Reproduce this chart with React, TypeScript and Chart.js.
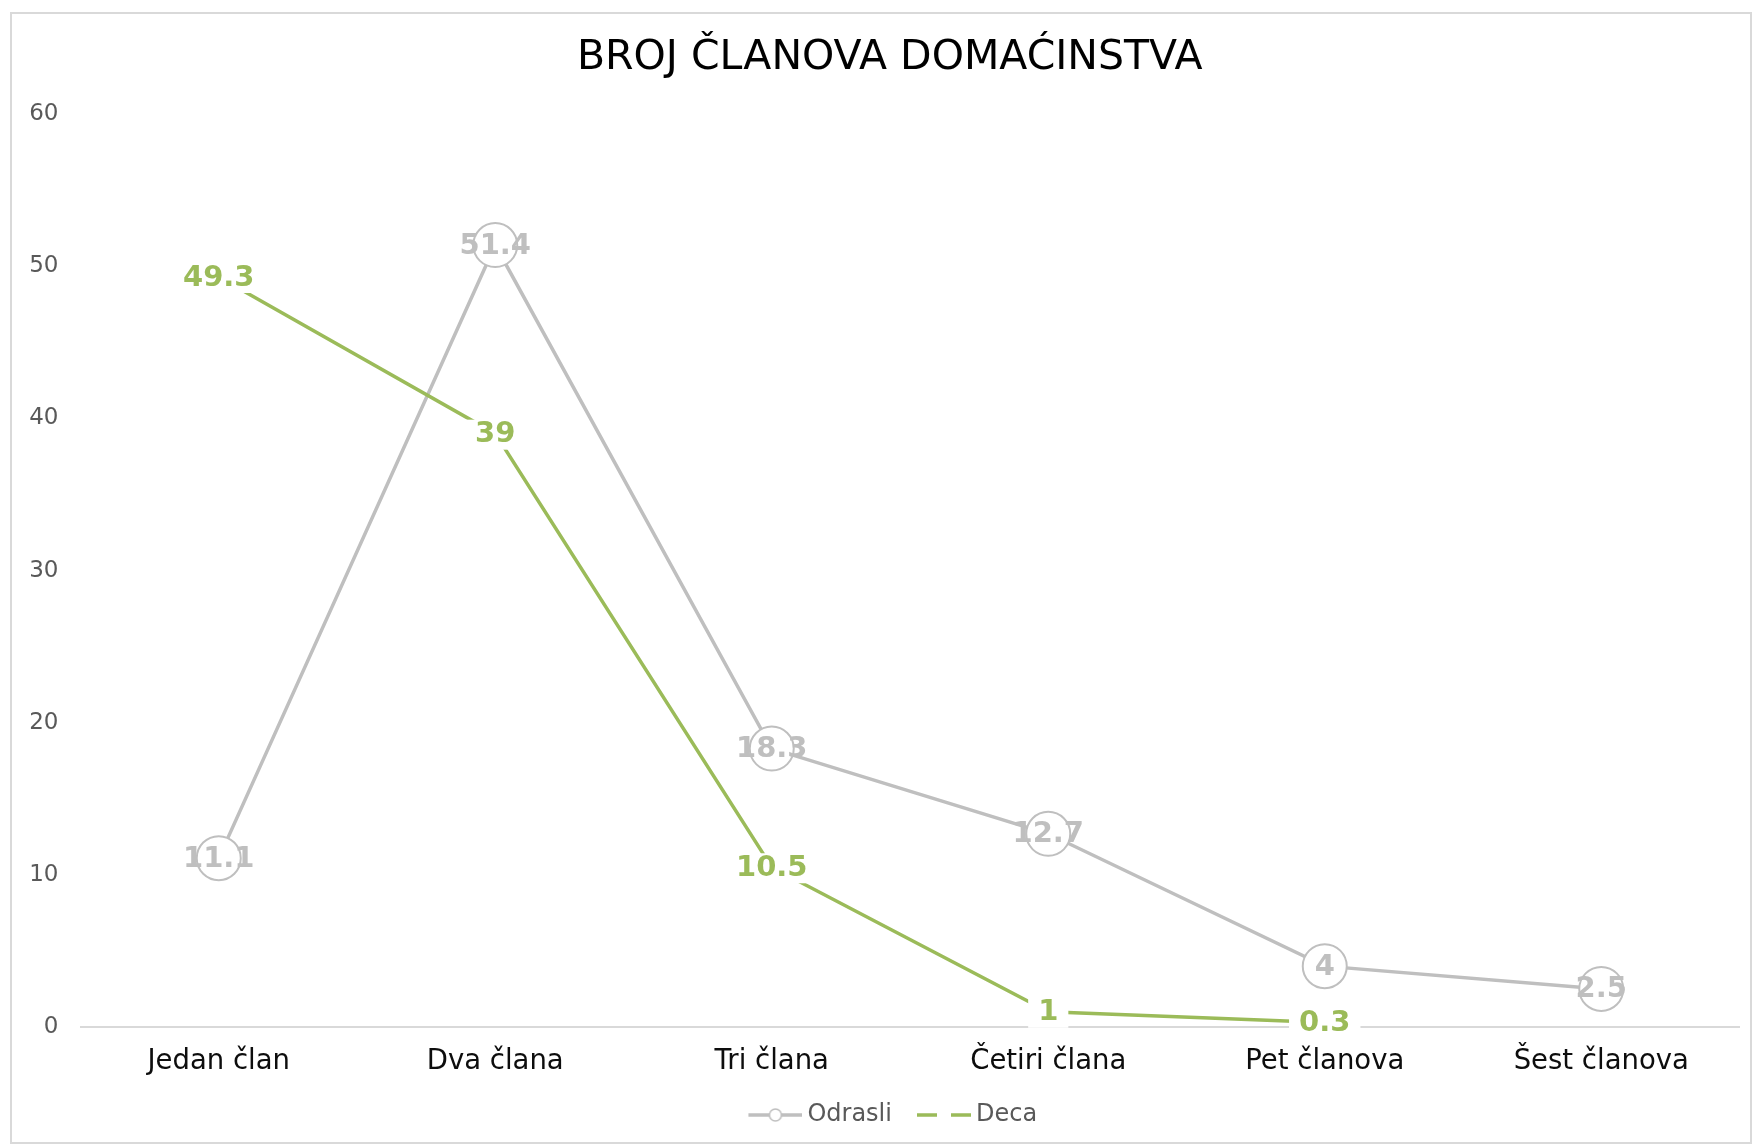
import { useEffect, useRef } from "react";
import { Chart, registerables } from "chart.js";

Chart.register(...registerables);

const categories = ["Jedan član", "Dva člana", "Tri člana", "Četiri člana", "Pet članova", "Šest članova"];
const odrasliValues = [11.1, 51.4, 18.3, 12.7, 4, 2.5];
const decaValues: (number | null)[] = [49.3, 39, 10.5, 1, 0.3, null];
const seriesNames = ["Odrasli", "Deca"];
const chartTitle = "BROJ ČLANOVA DOMAĆINSTVA";
const yMin = 0;
const yMax = 60;
const yStep = 10;

const FONT = "'DejaVu Sans', sans-serif";
const GRAY = "#bfbfbf";
const GREEN = "#9bbb59";

function makeLegendImage(kind: "marker" | "dash"): HTMLCanvasElement {
  const c = document.createElement("canvas");
  c.width = 76;
  c.height = 20;
  const ctx = c.getContext("2d")!;
  const x0 = 22;
  const x1 = 76;
  const cy = 10;
  ctx.lineWidth = 3.5;
  if (kind === "marker") {
    ctx.strokeStyle = GRAY;
    ctx.beginPath();
    ctx.moveTo(x0, cy);
    ctx.lineTo(x1, cy);
    ctx.stroke();
    ctx.beginPath();
    ctx.arc((x0 + x1) / 2, cy, 6, 0, Math.PI * 2);
    ctx.fillStyle = "#fff";
    ctx.fill();
    ctx.lineWidth = 1.5;
    ctx.stroke();
  } else {
    ctx.strokeStyle = GREEN;
    ctx.beginPath();
    ctx.moveTo(x0, cy);
    ctx.lineTo(x0 + 20, cy);
    ctx.moveTo(x0 + 34, cy);
    ctx.lineTo(x1, cy);
    ctx.stroke();
  }
  return c;
}

const framePlugin = {
  id: "frame",
  beforeDraw(chart: any) {
    const ctx = chart.ctx;
    ctx.save();
    ctx.fillStyle = "#fff";
    ctx.fillRect(0, 0, chart.width, chart.height);
    ctx.strokeStyle = "#d9d9d9";
    ctx.lineWidth = 2;
    ctx.strokeRect(11, 13, 1740, 1130);
    ctx.restore();
  },
};

// Title and legend are centred a little right of the canvas centre in the reference.
const shiftBlocksPlugin = {
  id: "shiftBlocks",
  afterLayout(chart: any) {
    const tb = chart.titleBlock;
    if (tb) {
      tb.left += 20;
      tb.right += 20;
    }
    const lg = chart.legend;
    if (lg) {
      lg.left += 15.5;
      lg.right += 15.5;
    }
  },
};

const valueLabelPlugin = {
  id: "valueLabels",
  afterDatasetsDraw(chart: any) {
    const ctx = chart.ctx;
    chart.data.datasets.forEach((ds: any, di: number) => {
      const meta = chart.getDatasetMeta(di);
      meta.data.forEach((el: any, i: number) => {
        const v = ds.data[i];
        if (v === null || v === undefined) return;
        const text = String(v);
        const { x, y } = el.getProps(["x", "y"], true);
        ctx.save();
        ctx.font = `bold 29px ${FONT}`;
        ctx.textAlign = "center";
        ctx.textBaseline = "middle";
        if (ds.label === "Deca") {
          const w = ctx.measureText(text).width;
          ctx.fillStyle = "#fff";
          ctx.fillRect(x - w / 2 - 10, y - 14, w + 20, 30);
          ctx.fillStyle = GREEN;
        } else {
          ctx.fillStyle = GRAY;
        }
        ctx.fillText(text, x, y + 1);
        ctx.restore();
      });
    });
  },
};

export default function App() {
  const ref = useRef<HTMLCanvasElement | null>(null);

  useEffect(() => {
    document.body.style.margin = "0";
    const canvas = ref.current;
    if (!canvas) return;
    const imgO = makeLegendImage("marker");
    const imgD = makeLegendImage("dash");

    const chart = new Chart(canvas, {
      type: "line",
      data: {
        labels: categories,
        datasets: [
          {
            label: seriesNames[0],
            data: odrasliValues,
            borderColor: GRAY,
            borderWidth: 3.5,
            pointRadius: 22,
            pointHoverRadius: 22,
            pointBackgroundColor: "#fff",
            pointBorderColor: GRAY,
            pointBorderWidth: 2,
            tension: 0,
            order: 1,
          },
          {
            label: seriesNames[1],
            data: decaValues,
            borderColor: GREEN,
            borderWidth: 3.5,
            pointRadius: 0,
            pointHoverRadius: 0,
            tension: 0,
            spanGaps: false,
            order: 0,
          },
        ],
      },
      options: {
        animation: false,
        responsive: false,
        maintainAspectRatio: false,
        events: [],
        layout: { autoPadding: false, padding: { top: 12, left: 0, right: 14.5, bottom: 11 } },
        plugins: {
          title: {
            display: true,
            text: chartTitle,
            color: "#000",
            font: { family: FONT, size: 41, weight: "normal", lineHeight: 1.2 },
            padding: { top: 22, bottom: 31 },
          },
          legend: {
            position: "bottom",
            labels: {
              usePointStyle: true,
              pointStyleWidth: 62,
              padding: 10,
              color: "#595959",
              font: { family: FONT, size: 24 },
              generateLabels: (ch: any) =>
                ch.data.datasets.map((ds: any, i: number) => ({
                  text: ds.label,
                  pointStyle: i === 0 ? imgO : imgD,
                  fillStyle: "transparent",
                  strokeStyle: "transparent",
                  lineWidth: 0,
                  hidden: false,
                  datasetIndex: i,
                  fontColor: "#595959",
                })),
            },
          },
          tooltip: { enabled: false },
        },
        scales: {
          x: {
            offset: true,
            grid: { display: false, drawTicks: false },
            border: { display: true, color: "#d9d9d9", width: 2 },
            ticks: {
              color: "#0d0d0d",
              font: { family: FONT, size: 27.5 },
              padding: 18,
              maxRotation: 0,
              autoSkip: false,
            },
            afterFit: (s: any) => {
              s.height = 66;
              s.paddingLeft = 0;
              s.paddingRight = 0;
            },
          },
          y: {
            min: yMin,
            max: yMax,
            grid: { display: false, drawTicks: false },
            border: { display: false },
            ticks: {
              stepSize: yStep,
              color: "#595959",
              font: { family: FONT, size: 23 },
              padding: 22,
            },
            afterFit: (s: any) => {
              s.width = 80.5;
              s.paddingTop = 0;
              s.paddingBottom = 0;
            },
          },
        },
      },
      plugins: [framePlugin, shiftBlocksPlugin, valueLabelPlugin],
    } as any);

    return () => chart.destroy();
  }, []);

  return <canvas ref={ref} width={1754} height={1148} style={{ display: "block", width: 1754, height: 1148 }} />;
}
